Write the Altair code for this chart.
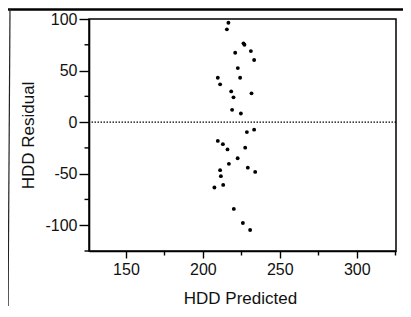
import altair as alt
import pandas as pd

# Values
hdd_predicted = [216.6, 215.6, 226.4, 227.0, 231.2, 221.0, 233.3, 222.7, 209.7, 224.2,
                 211.2, 218.4, 231.6, 219.9, 219.0, 224.7,
                 233.3, 228.6, 209.7, 213.0, 227.5, 216.0, 222.6, 216.9, 229.2, 234.0,
                 211.2, 211.7, 213.2, 207.5, 220.1, 226.0, 230.7]
hdd_residual = [96.4, 90.0, 76.4, 75.0, 68.9, 67.3, 60.2, 52.4, 43.0, 43.0,
                36.6, 29.8, 27.9, 24.0, 11.9, 8.4,
                -7.3, -9.7, -18.2, -21.4, -24.8, -26.5, -35.0, -40.5, -44.2, -48.3,
                -46.6, -52.4, -60.9, -63.4, -84.2, -97.8, -104.6]
zero_line = [0]
x_ticks = [150, 175, 200, 225, 250, 275, 300, 325]
y_major = [-100, -50, 0, 50, 100]
y_minor = [-125, -75, -25, 25, 75]

points = pd.DataFrame({"pred": hdd_predicted, "resid": hdd_residual})
zero = pd.DataFrame({"resid": zero_line})
minor = pd.DataFrame({"resid": y_minor})

FONT = "Liberation Sans"

x_scale = alt.Scale(domain=[126, 325.5], nice=False, zero=False)
y_scale = alt.Scale(domain=[-125, 100], nice=False, zero=False)

x_axis = alt.Axis(
    values=x_ticks,
    labelExpr="datum.value % 50 === 0 ? datum.label : ''",
    tickSize={"condition": {"test": "datum.value % 50 === 0", "value": 7}, "value": 4},
    labelPadding=3,
    labelOverlap=False,
    grid=False,
    title="HDD Predicted",
    titleX=151, titleY=47, titleBaseline="middle",
)
y_axis = alt.Axis(
    values=y_major,
    labelExpr="datum.value < 0 ? '-' + abs(datum.value) : '' + datum.value",
    tickSize=10,
    labelPadding=2,
    labelOverlap=False,
    grid=False,
    title="HDD Residual",
    titleX=-61, titleY=116, titleBaseline="middle", titleAngle=270,
)

pts = alt.Chart(points).mark_circle(size=15, color="#000", opacity=1).encode(
    x=alt.X("pred:Q", scale=x_scale, axis=x_axis),
    y=alt.Y("resid:Q", scale=y_scale, axis=y_axis),
)

zline = alt.Chart(zero).mark_rule(color="#000", strokeWidth=1.3, strokeDash=[1.5, 1.5]).encode(
    y=alt.Y("resid:Q", scale=y_scale, axis=y_axis)
)

yminor = alt.Chart(minor).mark_rule(color="#000", strokeWidth=1.4).encode(
    y=alt.Y("resid:Q", scale=y_scale, axis=y_axis),
    x=alt.value(-4.5), x2=alt.value(0),
)

# scanned page border (decoration)
deco = pd.DataFrame({"k": [0]})
top_border = alt.Chart(deco).mark_rule(color="#000", strokeWidth=2.5).encode(
    x=alt.value(-81), x2=alt.value(330), y=alt.value(-9.5)
)
left_border = alt.Chart(deco).mark_rule(color="#222", strokeWidth=1.2).encode(
    x=alt.value(-79), x2=alt.value(-81), y=alt.value(-10), y2=alt.value(300)
)

chart = alt.layer(pts, zline, yminor, top_border, left_border).properties(
    width=307, height=232,
    autosize=alt.AutoSizeParams(type="none"),
    padding={"left": 81, "top": 11, "right": 7, "bottom": 55},
).configure_view(
    stroke="#000", strokeWidth=1.5
).configure_axis(
    domainColor="#000", domainWidth=1.6, tickColor="#000", tickWidth=1.4,
    labelFont=FONT, labelFontSize=16, labelColor="#111",
    titleFont=FONT, titleFontSize=17, titleColor="#111", titleFontWeight="normal",
)

chart.save("out.html", embed_options={"renderer": "svg", "actions": False})
